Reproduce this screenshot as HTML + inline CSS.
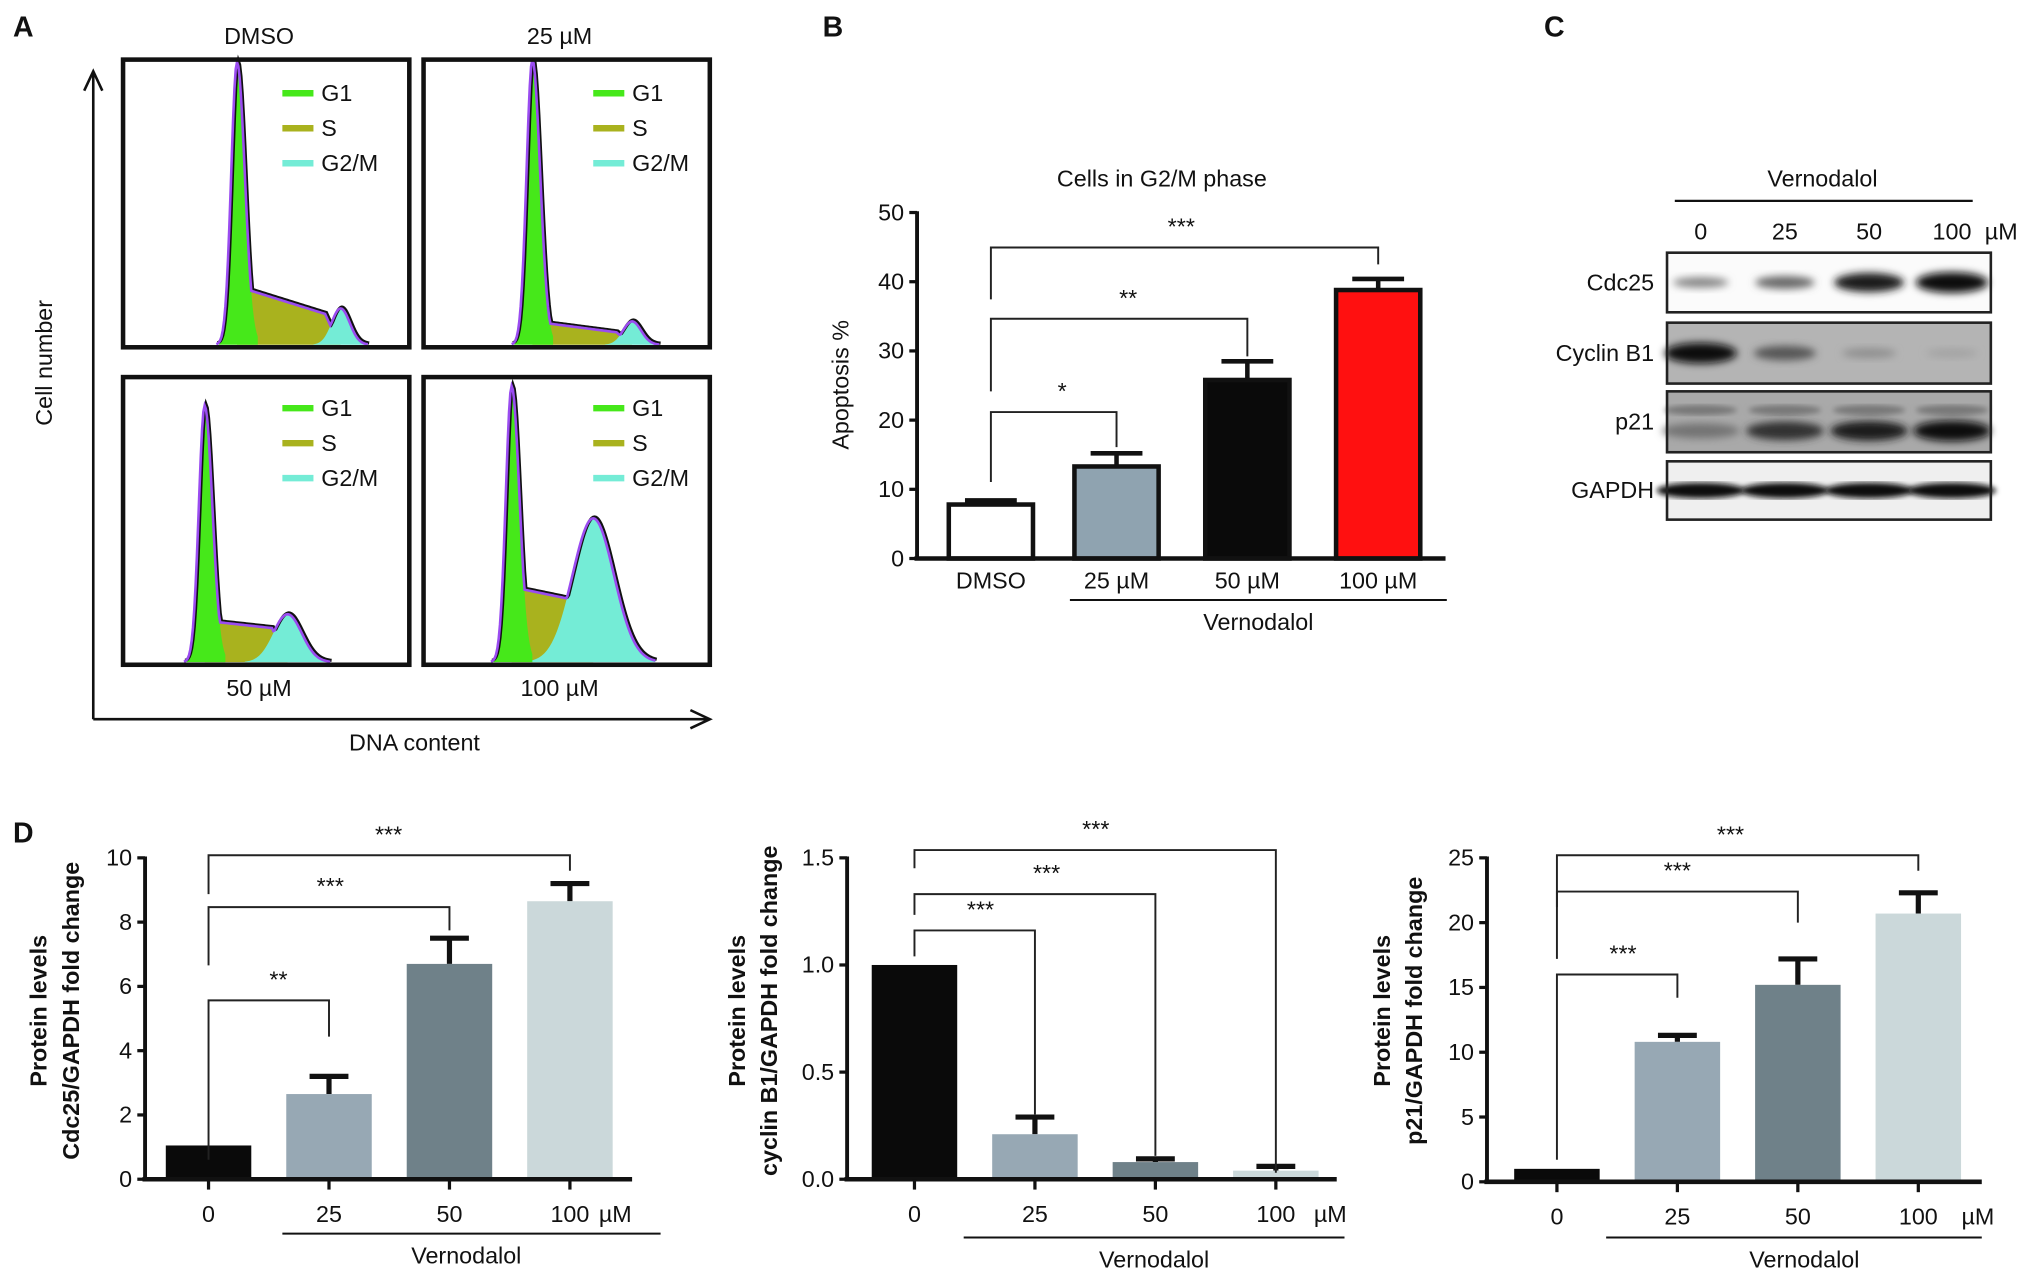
<!DOCTYPE html>
<html><head><meta charset="utf-8">
<style>
html,body{margin:0;padding:0;background:#fff;}
svg{display:block;}
text{font-family:"Liberation Sans Narrow","Liberation Sans",sans-serif;fill:#111;}
.b{font-family:"Liberation Sans",sans-serif;font-weight:bold;}
.r{font-family:"Liberation Sans",sans-serif;}
</style></head>
<body>
<svg id="fig" xmlns="http://www.w3.org/2000/svg" width="2031" height="1279" viewBox="0 0 1568 987" preserveAspectRatio="none">
<defs><filter id="blur" x="-20%" y="-50%" width="140%" height="200%"><feGaussianBlur stdDeviation="3"/></filter>
<filter id="blur2"><feGaussianBlur stdDeviation="2"/></filter></defs>
</svg>
<script>
// ---------- Panel A data (flow cytometry histograms) ----------
const histLabels = ["DMSO", "25 µM", "50 µM", "100 µM"];
const histG1Height = [218, 220, 198, 213];
const histSStart = [45, 18, 32, 58];
const histSEnd = [20, 8, 25, 45];
const histG2Height = [28, 18, 37, 111];
// ---------- Panel B data ----------
const bCategories = ["DMSO", "25 µM", "50 µM", "100 µM"];
const bValues = [7.8, 13.3, 25.8, 38.8];
const bErrors = [0.6, 1.9, 2.7, 1.6];
const bTicks = [0, 10, 20, 30, 40, 50];
// ---------- Panel C data ----------
const blotProteins = ["Cdc25", "Cyclin B1", "p21", "GAPDH"];
const blotLanes = ["0", "25", "50", "100"];
const cdc25Intensity = [0.35, 0.5, 0.9, 1.0];
const cyclinIntensity = [1.0, 0.6, 0.3, 0.2];
const p21Intensity = [0.45, 0.8, 0.9, 1.0];
const gapdhIntensity = [1.0, 1.0, 1.0, 1.0];
// ---------- Panel D data ----------
const dCategories = ["0", "25", "50", "100"];
const cdc25Values = [1.05, 2.65, 6.7, 8.65];
const cdc25Errors = [0, 0.55, 0.8, 0.55];
const cdc25Ticks = [0, 2, 4, 6, 8, 10];
const cyclinValues = [1.0, 0.21, 0.08, 0.04];
const cyclinErrors = [0, 0.08, 0.015, 0.02];
const cyclinTicks = [0, 0.5, 1.0, 1.5];
const p21Values = [1.0, 10.8, 15.2, 20.7];
const p21Errors = [0, 0.5, 2.0, 1.6];
const p21Ticks = [0, 5, 10, 15, 20, 25];

const NS = "http://www.w3.org/2000/svg";
const svg = document.getElementById("fig");
function el(tag, attrs, parent) {
  const e = document.createElementNS(NS, tag);
  for (const k in attrs) e.setAttribute(k, attrs[k]);
  (parent || svg).appendChild(e);
  return e;
}
function txt(x, y, s, size, anchor, parent, extra) {
  const t = el("text", Object.assign({x: x, y: y, "font-size": size, "text-anchor": anchor || "middle"}, extra || {}), parent);
  t.textContent = s;
  return t;
}
function line(x1, y1, x2, y2, w, parent, col) {
  return el("line", {x1: x1, y1: y1, x2: x2, y2: y2, stroke: col || "#111", "stroke-width": w}, parent);
}

// Panel letters
[["A", 18, 28], ["B", 643, 28], ["C", 1200, 28], ["D", 18, 650]].forEach(function (p) {
  const t = txt(p[1], p[2], p[0], 22, "middle", svg, {class: "b"});
  
  
});

// ---------- Panel A ----------
const gA = el("g", {});


line(72, 555, 72, 57, 2, gA);
el("path", {d: "M65,70 L72,55 L79,70", fill: "none", stroke: "#111", "stroke-width": 2}, gA);
line(72, 555, 546, 555, 2, gA);
el("path", {d: "M533,548 L548,555 L533,562", fill: "none", stroke: "#111", "stroke-width": 2}, gA);
const cn = txt(40, 280, "Cell number", 18, "middle", gA, {transform: "rotate(-90 40 280)", class: "r"});


const dc = txt(320, 579, "DNA content", 18, "middle", gA, {class: "r"});



const boxes = [[95, 46], [327, 46], [95, 291], [327, 291]];
const g1X = [88, 84, 63, 68];   // relative to box left
const g2X = [168, 161, 127, 131];
const g2Sig = [7, 7, 11, 16];
const titleY = [34, 34, 537, 537];
function gauss(x, c, s) { return Math.exp(-0.5 * ((x - c) / s) * ((x - c) / s)); }
for (let i = 0; i < 4; i++) {
  const bx = boxes[i][0], by = boxes[i][1], bw = 221, bh = 222, base = by + bh - 2;
  const g = el("g", {}, gA);
  
  
  const c1 = bx + g1X[i], c2 = bx + g2X[i];
  let pG1 = "M" + (c1 - 14) + "," + base, pS = "M" + c1 + "," + base, pG2 = "M" + (c2 - 3 * g2Sig[i]) + "," + base, pT = "";
  const sAt = function (x) {
    if (x < c1 || x > c2) return 0;
    const f = (x - c1) / (c2 - c1);
    let v = histSStart[i] + (histSEnd[i] - histSStart[i]) * f;
    if (x > c2 - 12) v *= (c2 - x) / 12;
    return v;
  };
  for (let x = c1 - 14; x <= c1 + 16; x += 1) {
    const s = x < c1 ? 4.5 : 6;
    pG1 += " L" + x + "," + (base - histG1Height[i] * gauss(x, c1, s));
  }
  pG1 += " L" + (c1 + 16) + "," + base + " Z";
  for (let x = c1; x <= c2; x += 2) pS += " L" + x + "," + (base - sAt(x));
  pS += " L" + c2 + "," + base + " Z";
  for (let x = c2 - 3 * g2Sig[i]; x <= c2 + 3 * g2Sig[i]; x += 1) pG2 += " L" + x + "," + (base - histG2Height[i] * gauss(x, c2, g2Sig[i]));
  pG2 += " L" + (c2 + 3 * g2Sig[i]) + "," + base + " Z";
  for (let x = c1 - 16; x <= c2 + 3 * g2Sig[i]; x += 1) {
    const s = x < c1 ? 4.5 : 6;
    const y = base - Math.max(histG1Height[i] * gauss(x, c1, s), sAt(x), histG2Height[i] * gauss(x, c2, g2Sig[i]));
    pT += (pT ? " L" : "M") + x + "," + y;
  }
  el("path", {d: pS, fill: "#a9b21e"}, g);
  el("path", {d: pG2, fill: "#74ecd6"}, g);
  el("path", {d: pG1, fill: "#46e81a"}, g);
  el("path", {d: pT, fill: "none", stroke: "#111", "stroke-width": 2.5, transform: "translate(1,-1)"}, g);
  el("path", {d: pT, fill: "none", stroke: "#9a4cf0", "stroke-width": 2}, g);
  el("rect", {x: bx, y: by, width: bw, height: bh, fill: "none", stroke: "#111", "stroke-width": 3.5}, g);
  const lx = i % 2 === 0 ? bx + 123 : bx + 131, ly = i < 2 ? by + 26 : by + 24;
  const legCols = ["#46e81a", "#a9b21e", "#74ecd6"], legTxt = ["G1", "S", "G2/M"];
  for (let k = 0; k < 3; k++) {
    const lg = el("g", {}, g);
    
    
    line(lx, ly + k * 27, lx + 24, ly + k * 27, 5, lg, legCols[k]);
    txt(lx + 30, ly + k * 27 + 6, legTxt[k], 18, "start", lg, {class: "r"});
  }
  const tt = txt(i % 2 === 0 ? 200 : 432, titleY[i], histLabels[i], 18, "middle", g, {class: "r"});
  
  
}

// ---------- generic bar chart ----------
function barChart(o) {
  const g = el("g", {});
  
  
  const yMax = o.ticks[o.ticks.length - 1];
  const yS = function (v) { return o.y0 - (v / yMax) * (o.y0 - o.yTop); };
  for (let i = 0; i < o.values.length; i++) {
    const cx = o.centers[i], v = o.values[i], e = o.errors[i];
    const bg = el("g", {}, g);
    
    
    if (e > 0) {
      line(cx, yS(v), cx, yS(v + e), o.errW, bg);
      line(cx - o.capW, yS(v + e), cx + o.capW, yS(v + e), o.errW, bg);
    }
    const r = el("rect", {x: cx - o.bw / 2, y: yS(v), width: o.bw, height: o.y0 - yS(v), fill: o.colors[i]}, bg);
    if (o.outline) { r.setAttribute("stroke", "#111"); r.setAttribute("stroke-width", 3.5); }
  }
  const ya = el("g", {}, g);
  
  
  line(o.x0, o.y0 + 1, o.x0, o.yTop - 1, 3, ya);
  o.ticks.forEach(function (t) {
    line(o.x0 - 6, yS(t), o.x0, yS(t), 2.5, ya);
    txt(o.x0 - 10, yS(t) + 6, o.tickFmt ? t.toFixed(1) : String(t), 18, "end", ya);
  });
  const xa = el("g", {}, g);
  
  
  line(o.x0 - 2, o.y0, o.xEnd, o.y0, 3.5, xa);
  if (o.xTicks) o.centers.forEach(function (c) { line(c, o.y0, c, o.y0 + 8, 2.5, xa); });
  o.cats.forEach(function (c, i) {
    const t = txt(o.centers[i], o.labelY, c, 18, "middle", xa);
    
    
  });
  if (o.unit) txt(o.unit[0], o.labelY, "µM", 18, "middle", xa);
  line(o.under[0], o.under[2], o.under[1], o.under[2], 1.5, xa);
  const vl = txt((o.under[0] + o.under[1]) / 2 + (o.vOff || 0), o.under[2] + 23, "Vernodalol", 18, "middle", xa);
  
  
  o.ylab.forEach(function (s, k) {
    const t = txt(o.ylabX[k], o.ylabY, s, 18, "middle", g, {transform: "rotate(-90 " + o.ylabX[k] + " " + o.ylabY + ")", class: o.ylabBold ? "b" : ""});
    
    
  });
  o.brackets.forEach(function (b) {
    const bg = el("g", {}, g);
    
    
    const x1 = o.centers[0], x2 = o.centers[b.to];
    el("path", {d: "M" + x1 + "," + b.leftEnd + " L" + x1 + "," + b.y + " L" + x2 + "," + b.y + " L" + x2 + "," + b.rightEnd, fill: "none", stroke: "#222", "stroke-width": 1.5}, bg);
    txt(b.tx, b.y - 10, b.star, 18, "middle", bg);
  });
  return g;
}

// ---------- Panel B ----------
const tB = txt(897, 144, "Cells in G2/M phase", 18, "middle");


barChart({
  name: "panel-b-g2m-chart", values: bValues, errors: bErrors, ticks: bTicks, cats: bCategories,
  centers: [765, 862, 963, 1064], bw: 65, x0: 708, y0: 431, yTop: 164, xEnd: 1116,
  colors: ["#ffffff", "#8fa3b0", "#0a0a0a", "#ff1010"], outline: true, errW: 3.5, capW: 20,
  labelY: 454, under: [826, 1117, 463], ylab: ["Apoptosis %"], ylabX: [655], ylabY: 297, ylabBold: false,
  brackets: [
    {to: 1, y: 318, leftEnd: 372, rightEnd: 345, star: "*", tx: 820},
    {to: 2, y: 246, leftEnd: 302, rightEnd: 275, star: "**", tx: 871},
    {to: 3, y: 191, leftEnd: 231, rightEnd: 204, star: "***", tx: 912}
  ]
});

// ---------- Panel C (western blots) ----------
const gC = el("g", {});


txt(1407, 144, "Vernodalol", 18, "middle", gC);
line(1293, 155, 1523, 155, 1.8, gC);
const laneX = [1313, 1378, 1443, 1507];
blotLanes.forEach(function (l, i) { txt(laneX[i], 185, l, 18, "middle", gC); });
txt(1545, 185, "µM", 18, "middle", gC);
const blotY = [[195, 241], [249, 296], [302, 349], [356, 401]];
const blotBg = ["#fbfbfb", "#b4b4b4", "#a9a9a9", "#efefef"];
const blotInt = [cdc25Intensity, cyclinIntensity, p21Intensity, gapdhIntensity];
for (let r = 0; r < 4; r++) {
  const rg = el("g", {}, gC);
  
  
  const y1 = blotY[r][0], y2 = blotY[r][1], yc = (y1 + y2) / 2;
  el("rect", {x: 1287, y: y1, width: 250, height: y2 - y1, fill: blotBg[r]}, rg);
  for (let i = 0; i < 4; i++) {
    const v = blotInt[r][i];
    const shade = Math.round(200 - 190 * v);
    const col = "rgb(" + shade + "," + shade + "," + shade + ")";
    if (r === 2) {
      el("ellipse", {cx: laneX[i], cy: yc - 9, rx: 28, ry: 4, fill: "#777", filter: "url(#blur2)"}, rg);
      el("ellipse", {cx: laneX[i], cy: yc + 7, rx: 30, ry: 4 + 4 * v, fill: col, filter: "url(#blur)"}, rg);
    } else if (r === 3) {
      el("ellipse", {cx: laneX[i], cy: yc, rx: 34, ry: 6, fill: "#111", filter: "url(#blur2)"}, rg);
    } else {
      el("ellipse", {cx: laneX[i], cy: yc, rx: 18 + 10 * v, ry: 2 + 6 * v, fill: col, filter: "url(#blur)"}, rg);
    }
  }
  el("rect", {x: 1287, y: y1, width: 250, height: y2 - y1, fill: "none", stroke: "#222", "stroke-width": 2}, rg);
  const lab = txt(1277, yc + 6, blotProteins[r], 18, "end", rg);
  
  
}

// ---------- Panel D ----------
const dColors = ["#0a0a0a", "#97a8b4", "#6f8189", "#cbd8da"];
barChart({
  name: "panel-d-cdc25-chart", values: cdc25Values, errors: cdc25Errors, ticks: cdc25Ticks, cats: dCategories,
  centers: [161, 254, 347, 440], bw: 66, x0: 112, y0: 910, yTop: 662, xEnd: 488, xTicks: true,
  colors: dColors, errW: 4, capW: 15, labelY: 943, unit: [475], under: [218, 510, 952], vOff: -4,
  ylab: ["Protein levels", "Cdc25/GAPDH fold change"], ylabX: [36, 61], ylabY: 780, ylabBold: true,
  brackets: [
    {to: 1, y: 772, leftEnd: 895, rightEnd: 800, star: "**", tx: 215},
    {to: 2, y: 700, leftEnd: 745, rightEnd: 718, star: "***", tx: 255},
    {to: 3, y: 660, leftEnd: 690, rightEnd: 672, star: "***", tx: 300}
  ]
});
barChart({
  name: "panel-d-cyclinb1-chart", values: cyclinValues, errors: cyclinErrors, ticks: cyclinTicks, cats: dCategories,
  centers: [706, 799, 892, 985], bw: 66, x0: 654, y0: 910, yTop: 662, xEnd: 1032, xTicks: true, tickFmt: true,
  colors: dColors, errW: 4, capW: 15, labelY: 943, unit: [1027], under: [744, 1038, 955], vOff: 0,
  ylab: ["Protein levels", "cyclin B1/GAPDH fold change"], ylabX: [575, 600], ylabY: 780, ylabBold: true,
  brackets: [
    {to: 1, y: 718, leftEnd: 738, rightEnd: 860, star: "***", tx: 757},
    {to: 2, y: 690, leftEnd: 706, rightEnd: 892, star: "***", tx: 808},
    {to: 3, y: 656, leftEnd: 670, rightEnd: 905, star: "***", tx: 846}
  ]
});
barChart({
  name: "panel-d-p21-chart", values: p21Values, errors: p21Errors, ticks: p21Ticks, cats: dCategories,
  centers: [1202, 1295, 1388, 1481], bw: 66, x0: 1148, y0: 912, yTop: 662, xEnd: 1530, xTicks: true,
  colors: dColors, errW: 4, capW: 15, labelY: 945, unit: [1527], under: [1240, 1530, 955], vOff: 8,
  ylab: ["Protein levels", "p21/GAPDH fold change"], ylabX: [1073, 1098], ylabY: 780, ylabBold: true,
  brackets: [
    {to: 1, y: 752, leftEnd: 895, rightEnd: 770, star: "***", tx: 1253},
    {to: 2, y: 688, leftEnd: 740, rightEnd: 712, star: "***", tx: 1295},
    {to: 3, y: 660, leftEnd: 700, rightEnd: 672, star: "***", tx: 1336}
  ]
});
</script>
</body></html>
